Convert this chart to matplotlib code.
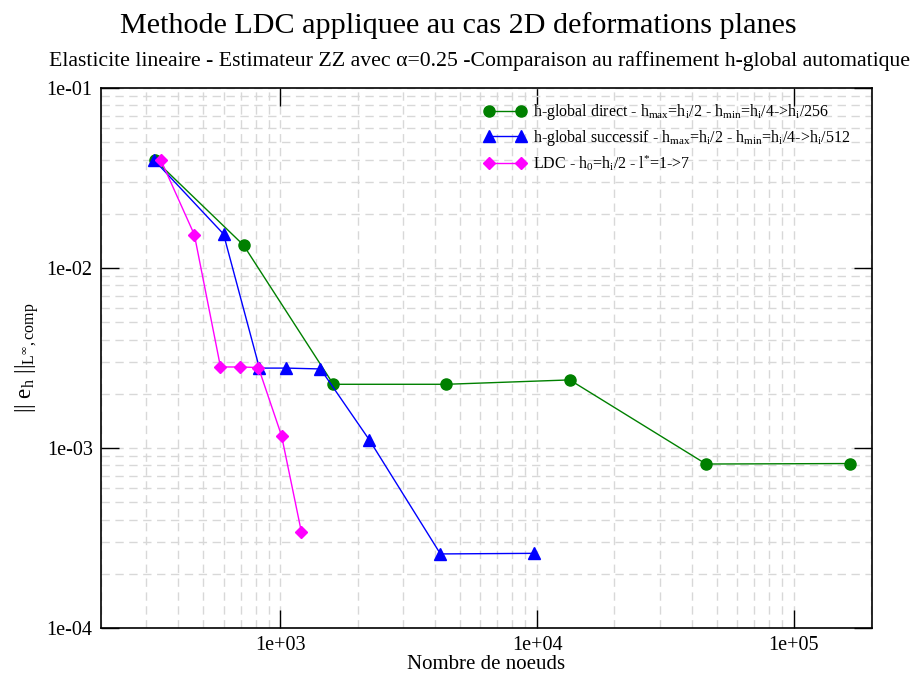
import matplotlib
matplotlib.use("Agg")
import matplotlib.pyplot as plt
from matplotlib.ticker import LogLocator, FuncFormatter, NullFormatter

plt.rcParams['font.family'] = ['Liberation Serif', 'DejaVu Serif']
plt.rcParams['mathtext.fontset'] = 'custom'
plt.rcParams['mathtext.rm'] = 'Liberation Serif'
plt.rcParams['mathtext.it'] = 'Liberation Serif'

# data
direct_nodes = [325, 718, 1607, 4430, 13400, 45500, 165000]
direct_err = [0.0398, 0.0134, 0.00226, 0.00226, 0.00239, 0.000815, 0.00082]

succ_nodes = [322, 600, 828, 1055, 1432, 2219, 4200, 9730]
succ_err = [0.0398, 0.01545, 0.00278, 0.00278, 0.00275, 0.00111, 0.000258, 0.00026]

ldc_nodes = [342, 462, 584, 698, 821, 1010, 1207]
ldc_err = [0.0398, 0.0153, 0.00282, 0.00282, 0.0028, 0.00117, 0.000341]

fig = plt.figure(figsize=(9.16, 6.74), dpi=100)
ax = fig.add_axes([0.1103, 0.0682, 0.8413, 0.8012])

ax.plot(direct_nodes, direct_err, color='#008000', marker='o', markersize=8, lw=1,
        label=r'h-global direct - h$_{\mathrm{max}}$=h$_{\mathrm{i}}$/2 - h$_{\mathrm{min}}$=h$_{\mathrm{i}}$/4->h$_{\mathrm{i}}$/256')
ax.plot(succ_nodes, succ_err, color='#0000ff', marker='^', markersize=8, lw=1,
        label=r'h-global successif - h$_{\mathrm{max}}$=h$_{\mathrm{i}}$/2 - h$_{\mathrm{min}}$=h$_{\mathrm{i}}$/4->h$_{\mathrm{i}}$/512')
ax.plot(ldc_nodes, ldc_err, color='#ff00ff', marker='D', markersize=6.5, lw=1,
        label=r'LDC - h$_{\mathrm{0}}$=h$_{\mathrm{i}}$/2 - l$^{*}$=1->7')

ax.set_xscale('log')
ax.set_yscale('log')
ax.set_xlim(200, 2.01e5)
ax.set_ylim(1e-4, 1e-1)

fmt = FuncFormatter(lambda v, p: f"{v:.0e}")
ax.xaxis.set_major_formatter(fmt)
ax.yaxis.set_major_formatter(fmt)
ax.xaxis.set_minor_locator(LogLocator(base=10, subs=range(2, 10)))
ax.yaxis.set_minor_locator(LogLocator(base=10, subs=range(2, 10)))
ax.xaxis.set_minor_formatter(NullFormatter())
ax.yaxis.set_minor_formatter(NullFormatter())

ax.tick_params(which='major', direction='in', length=13, width=1, top=True, right=True,
               labelsize=14.5, pad=6)
ax.tick_params(which='minor', length=0)
ax.grid(True, which='both', color='#d8d8d8', linestyle=(0, (6, 4)), lw=1)
ax.set_axisbelow(True)
for s in ax.spines.values():
    s.set_linewidth(1.2)

ax.set_xlabel('Nombre de noeuds', fontsize=15)
ax.xaxis.set_label_coords(0.5, -0.05)
ax.set_ylabel(r'|| e$_{\mathrm{h}}$ ||$_{\mathrm{L}^{\infty}\mathrm{,comp}}$', fontsize=16.5, labelpad=4)

fig.text(0.5, 0.962, 'Methode LDC appliquee au cas 2D deformations planes',
         ha='center', va='center', fontsize=21.7)
fig.text(0.524, 0.91, 'Elasticite lineaire - Estimateur ZZ avec α=0.25 -Comparaison au raffinement h-global automatique',
         ha='center', va='center', fontsize=15.7)

ax.legend(loc='upper left', bbox_to_anchor=(0.478, 1.0), frameon=False, numpoints=2,
          fontsize=11.5, handlelength=2.6, handletextpad=0.5, labelspacing=0.35)

fig.savefig('out.png', dpi=100)
